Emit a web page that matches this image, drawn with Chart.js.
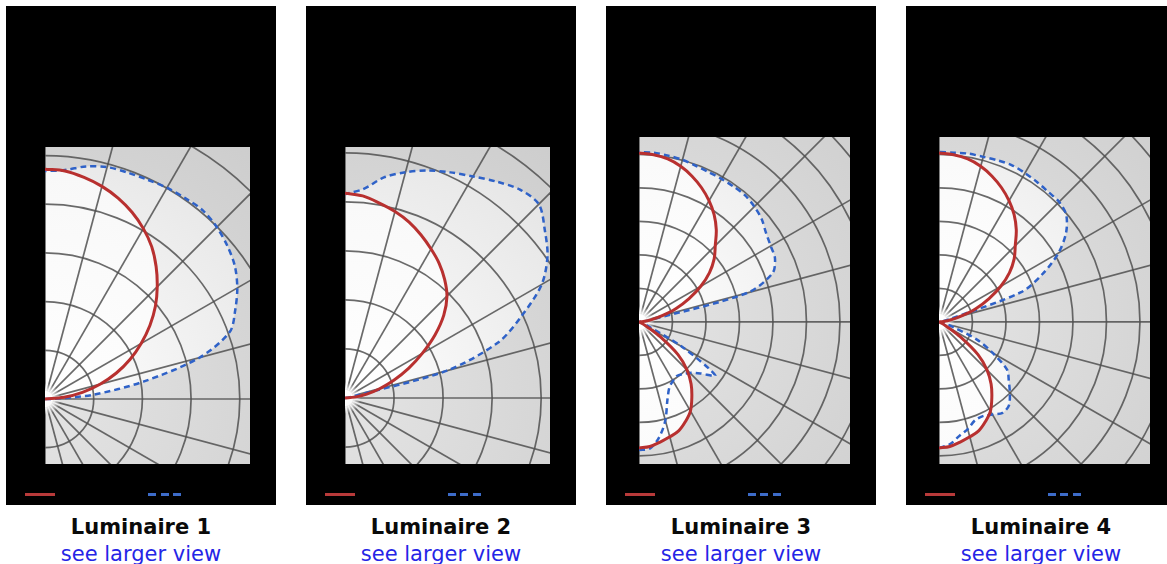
<!DOCTYPE html>
<html>
<head>
<meta charset="utf-8">
<script src="https://cdn.jsdelivr.net/npm/chart.js@4.4.1/dist/chart.umd.min.js"></script>
<style>
  html, body { margin: 0; padding: 0; background: #fff; width: 1167px; height: 564px; overflow: hidden; }
  .panel { position: absolute; top: 6px; width: 270px; height: 499px; background: #000; }
  .plot { position: absolute; }
  .key { position: absolute; top: 487px; height: 3px; }
  .key.red { left: 19px; width: 30px; background: #b83a3a; }
  .key.blue { left: 142px; width: 34px; background: repeating-linear-gradient(to right, #3d6cc9 0 8px, transparent 8px 12.5px); }
  .caption { position: absolute; top: 514px; width: 300px; text-align: center; font-family: "DejaVu Sans", Verdana, sans-serif; font-size: 21px; line-height: 27px; }
  .caption b { color: #0a0a0a; display: block; }
  .caption a { color: #2525e6; text-decoration: none; display: block; }
</style>
</head>
<body>
<div id="root"></div>
<script>
// vertical angles, 0 = nadir, 180 = zenith
const angles = [0,5,10,15,20,25,30,35,40,45,50,55,60,65,70,75,80,85,90,95,100,105,110,115,120,125,130,135,140,145,150,155,160,165,170,175,180];
const ringValues = [100,200,300,400,500,600,700,800,900,1000];
const spokeAngles = [0,15,30,45,60,75,90,105,120,135,150,165,180];

const titles = ["Luminaire 1", "Luminaire 2", "Luminaire 3", "Luminaire 4"];
const seriesNames = ["0°", "90°"];

// candela, red = 0° plane, blue = 90° plane
const lum1Red  = [0,0,0,0,0,0,0,0,0,0,0,0,0,0,0,0,0,0,0,39,78,117,156,193,228,263,296,326,355,382,404,423,439,452,462,470,472];
const lum1Blue = [0,0,0,0,0,0,0,0,0,0,0,0,0,0,0,0,0,0,16,99,205,329,404,431,456,476,489,499,505,503,501,497,495,493,485,472,468];
const lum2Red  = [0,0,0,0,0,0,0,0,0,0,0,0,0,0,0,0,0,0,0,20,45,73,106,143,182,224,263,294,316,335,351,367,382,394,404,414,418];
const lum2Blue = [0,0,0,0,0,0,0,0,0,0,0,0,0,0,0,0,0,0,0,4,10,214,333,398,463,504,532,559,555,539,522,508,494,477,457,428,416];
const lum3Red  = [376,373,364,355,346,328,307,275,242,203,152,78,24,9,0,0,0,0,0,13,36,70,118,165,213,257,293,322,359,391,418,442,463,481,494,501,504];
const lum3Blue = [382,379,349,304,248,215,203,197,203,215,239,278,149,30,9,0,0,0,0,12,36,334,424,448,454,463,478,487,493,493,493,493,496,501,504,507,507];
const lum4Red  = [376,373,364,355,346,328,307,275,242,203,152,78,24,9,0,0,0,0,0,13,36,70,118,165,213,257,293,322,359,391,418,442,463,481,494,501,504];
const lum4Blue = [376,367,346,331,313,310,319,331,325,299,272,248,185,125,45,15,0,0,0,3,12,36,263,343,412,463,496,507,507,510,513,516,513,510,510,507,507];

const redSeries = [lum1Red, lum2Red, lum3Red, lum4Red];
const blueSeries = [lum1Blue, lum2Blue, lum3Blue, lum4Blue];

// plot frame of each panel (page px) and axis ranges in cd
const frames = [
  { left: 45,  top: 147, w: 205, h: 317, xMax: 421, yMin: -133.5, yMax: 517.5 },
  { left: 345, top: 147, w: 205, h: 317, xMax: 418, yMin: -134.7, yMax: 512.2 },
  { left: 639, top: 137, w: 211, h: 327, xMax: 630, yMin: -424,   yMax: 552 },
  { left: 939, top: 137, w: 211, h: 327, xMax: 630, yMin: -424,   yMax: 552 }
];

function toXY(values) {
  return angles.map((a, i) => {
    const t = a * Math.PI / 180;
    return { x: values[i] * Math.sin(t), y: -values[i] * Math.cos(t) };
  });
}

function originOf(chart) {
  return { x: chart.scales.x.getPixelForValue(0), y: chart.scales.y.getPixelForValue(0) };
}

function radial(chart, inner, outer, reach) {
  const area = chart.chartArea;
  if (!area) return outer;
  const o = originOf(chart);
  const g = chart.ctx.createRadialGradient(o.x, o.y, 0, o.x, o.y, reach);
  g.addColorStop(0, inner);
  g.addColorStop(1, outer);
  return g;
}

const photometricGrid = {
  id: 'photometricGrid',
  beforeDraw(chart) {
    const { ctx, chartArea: a } = chart;
    ctx.save();
    ctx.fillStyle = radial(chart, '#e4e4e4', '#cdcdcd', 330);
    ctx.fillRect(a.left, a.top, a.width, a.height);
    ctx.restore();
  },
  beforeDatasetsDraw(chart) {
    const { ctx, chartArea: a } = chart;
    const o = originOf(chart);
    const unit = chart.scales.x.getPixelForValue(100) - o.x;
    ctx.save();
    ctx.beginPath();
    ctx.rect(a.left, a.top, a.width, a.height);
    ctx.clip();
    ctx.strokeStyle = 'rgba(80,80,80,0.85)';
    ctx.lineWidth = 1.7;
    ringValues.forEach(v => {
      ctx.beginPath();
      ctx.arc(o.x, o.y, unit * v / 100, 0, Math.PI * 2);
      ctx.stroke();
    });
    spokeAngles.forEach(deg => {
      const t = deg * Math.PI / 180;
      const r0 = 8, r1 = 1200;
      ctx.beginPath();
      ctx.moveTo(o.x + r0 * Math.sin(t), o.y + r0 * Math.cos(t));
      ctx.lineTo(o.x + r1 * Math.sin(t), o.y + r1 * Math.cos(t));
      ctx.stroke();
    });
    const glow = ctx.createRadialGradient(o.x, o.y, 0, o.x, o.y, 16);
    glow.addColorStop(0, 'rgba(255,255,255,1)');
    glow.addColorStop(0.6, 'rgba(255,255,255,0.8)');
    glow.addColorStop(1, 'rgba(255,255,255,0)');
    ctx.fillStyle = glow;
    ctx.beginPath();
    ctx.arc(o.x, o.y, 16, 0, Math.PI * 2);
    ctx.fill();
    ctx.restore();
  }
};

const root = document.getElementById('root');

frames.forEach((f, k) => {
  const panel = document.createElement('div');
  panel.className = 'panel';
  panel.style.left = (6 + 300 * k) + 'px';
  panel.innerHTML = '<div class="key red"></div><div class="key blue"></div>';
  root.appendChild(panel);

  const box = document.createElement('div');
  box.className = 'plot';
  box.style.left = f.left + 'px';
  box.style.top = f.top + 'px';
  box.style.width = f.w + 'px';
  box.style.height = f.h + 'px';
  const canvas = document.createElement('canvas');
  box.appendChild(canvas);
  root.appendChild(box);

  const cap = document.createElement('div');
  cap.className = 'caption';
  cap.style.left = (300 * k - 9) + 'px';
  cap.innerHTML = '<b>' + titles[k] + '</b><a href="#">see larger view</a>';
  root.appendChild(cap);

  new Chart(canvas.getContext('2d'), {
    type: 'scatter',
    data: {
      datasets: [
        {
          label: seriesNames[0],
          data: toXY(redSeries[k]),
          showLine: true,
          borderColor: '#b8302f',
          borderWidth: 3,
          pointRadius: 0,
          tension: 0.35,
          fill: 'shape',
          backgroundColor: c => radial(c.chart, '#ffffff', '#f7f7f7', 260)
        },
        {
          label: seriesNames[1],
          data: toXY(blueSeries[k]),
          showLine: true,
          borderColor: '#2f62c8',
          borderWidth: 2.5,
          borderDash: [6, 4],
          pointRadius: 0,
          tension: 0.3,
          fill: 'shape',
          backgroundColor: c => radial(c.chart, '#ffffff', '#e4e4e4', 300)
        }
      ]
    },
    options: {
      responsive: true,
      maintainAspectRatio: false,
      animation: false,
      layout: { padding: 0 },
      scales: {
        x: { type: 'linear', display: false, min: 0, max: f.xMax },
        y: { type: 'linear', display: false, min: f.yMin, max: f.yMax }
      },
      plugins: {
        legend: { display: false },
        tooltip: { enabled: false },
        filler: { drawTime: 'beforeDatasetsDraw', propagate: false }
      }
    },
    plugins: [photometricGrid]
  });
});
</script>
</body>
</html>
